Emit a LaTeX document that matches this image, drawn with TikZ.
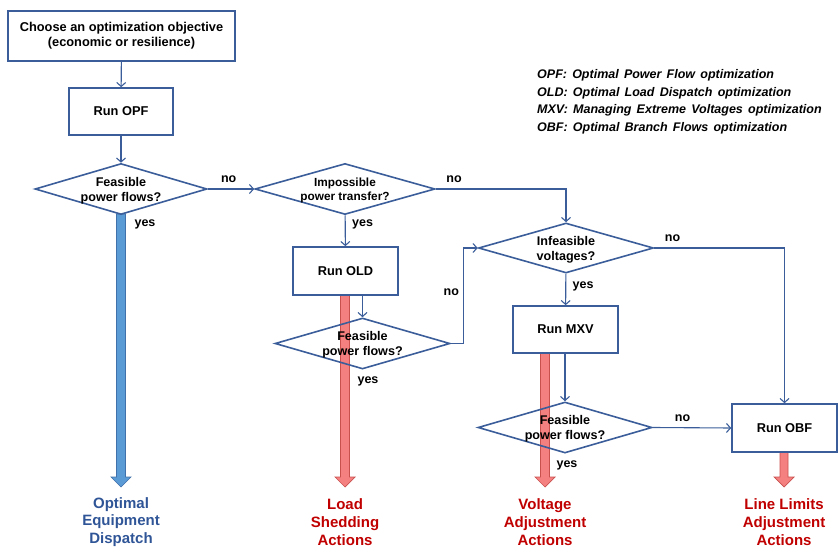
\documentclass[tikz,border=0pt]{standalone}
\usepackage{fontspec}
\setmainfont{Liberation Sans}
\newfontfamily\legendfont{Liberation Sans}[WordSpace=1.5]
\usetikzlibrary{shapes.geometric,arrows.meta}

\definecolor{flowblue}{RGB}{59,94,154}
\definecolor{fatbluefill}{RGB}{91,155,213}
\definecolor{fatblueedge}{RGB}{65,113,170}
\definecolor{fatredfill}{RGB}{244,128,128}
\definecolor{fatrededge}{RGB}{200,80,77}
\definecolor{outred}{RGB}{192,0,0}
\definecolor{outblue}{RGB}{47,85,151}

\tikzset{
  process/.style={draw=flowblue, line width=1.6pt, rectangle, align=center,
    font=\fontsize{12.8}{15}\selectfont\bfseries},
  decision/.style={draw=flowblue, line width=1.6pt, diamond, inner sep=0pt},
  qtext/.style={align=center, yshift=-1.5pt, font=\fontsize{12.6}{14.8}\selectfont\bfseries},
  flow/.style={draw=flowblue, line width=1.1pt, -{Straight Barb[length=4pt,width=9pt]}},
  lbl/.style={font=\fontsize{12.5}{14}\selectfont\bfseries},
  outcome/.style={align=center, font=\fontsize{15}{17.7}\selectfont\bfseries},
  fatblue/.style={fill=fatbluefill, draw=fatblueedge, line width=0.7pt, line join=miter},
  fatred/.style={fill=fatredfill, draw=fatrededge, line width=0.7pt, line join=miter}
}

\begin{document}
\begin{tikzpicture}[x=1pt, y=-1pt]
    \useasboundingbox (0,0) rectangle (838,548);

    % fat result arrows (drawn first, the diamonds sit on top)
    \draw[fatblue] (116.5,214) -- ++(0,263) -- ++(-5.5,0) -- ++(10,10) -- ++(10,-10)
      -- ++(-5.5,0) -- ++(0,-263) -- cycle;
    \draw[fatred] (340.5,295) -- ++(0,182) -- ++(-5.5,0) -- ++(10,10) -- ++(10,-10)
      -- ++(-5.5,0) -- ++(0,-182) -- cycle;
    \draw[fatred] (540.5,353) -- ++(0,124) -- ++(-5.5,0) -- ++(10,10) -- ++(10,-10)
      -- ++(-5.5,0) -- ++(0,-124) -- cycle;
    \draw[fatred] (780,452) -- ++(0,25) -- ++(-6,0) -- ++(10,10) -- ++(10,-10)
      -- ++(-6,0) -- ++(0,-25) -- cycle;

    % boxes
    \node[process, minimum width=227, minimum height=50] (choose) at (121.5,36)
      {Choose an optimization objective\\(economic or resilience)};
    \node[process, minimum width=104, minimum height=47] (opf) at (121,111.5) {Run OPF};
    \node[process, minimum width=105, minimum height=48] (old) at (345.5,271) {Run OLD};
    \node[process, minimum width=105, minimum height=47] (mxv) at (565.5,329.5) {Run MXV};
    \node[process, minimum width=105, minimum height=48] (obf) at (784.5,428) {Run OBF};

    % decisions
    \node[decision, minimum width=172, minimum height=51,
      label={[qtext]center:Feasible\\power flows?}] (feas1) at (121,189) {};
    \node[decision, minimum width=180, minimum height=51,
      label={[qtext, font=\fontsize{11.8}{14}\selectfont\bfseries]center:Impossible\\power transfer?}]
      (impos) at (345,189) {};
    \node[decision, minimum width=175, minimum height=50,
      label={[qtext]center:Infeasible\\voltages?}] (infeas) at (566,248) {};
    \node[decision, minimum width=175, minimum height=51,
      label={[qtext]center:Feasible\\power flows?}] (feas2) at (362.5,343.5) {};
    \node[decision, minimum width=174, minimum height=51,
      label={[qtext]center:Feasible\\power flows?}] (feas3) at (565,427.5) {};

    % connectors
    \draw[flow] (choose) -- (opf);
    \draw[flow] (opf) -- (feas1);
    \draw[flow] (feas1.east) -- node[lbl, pos=0.45, above=2pt]{no} (impos.west);
    \draw[flow] (impos.east) -| node[lbl, pos=0.07, above=2pt]{no} (infeas.north);
    \draw[flow] (impos) -- node[lbl, pos=0.3, right=3pt]{yes} (old);
    \draw[flow] (feas2.north |- old.south) -- (feas2.north);
    \draw[flow] (feas2.east) -- ++(13,0) |- node[lbl, pos=0.27, left=1pt]{no} (infeas.west);
    \draw[flow] (infeas) -- node[lbl, pos=0.4, right=3pt]{yes} (mxv);
    \draw[flow] (infeas.east) -| node[lbl, pos=0.07, above=2pt]{no} (obf.north);
    \draw[flow] (feas3.north |- mxv.south) -- (feas3.north);
    \draw[flow] (feas3.east) -- node[lbl, pos=0.38, above=2pt]{no} (obf.west);

    % yes labels next to the fat arrows
    \node[lbl] (yes1) at (145,224) {yes};
    \node[lbl] (yes2) at (368,381) {yes};
    \node[lbl] (yes3) at (567,465) {yes};

    % legend
    \node[anchor=north west, align=left, inner sep=0pt,
      font=\legendfont\fontsize{12.5}{17.6}\selectfont\bfseries\itshape] (legend) at (537,69.5)
      {OPF: Optimal Power Flow optimization\\
       OLD: Optimal Load Dispatch optimization\\
       MXV: Managing Extreme Voltages optimization\\
       OBF: Optimal Branch Flows optimization};

    % outcomes
    \node[outcome, text=outblue] (dispatch) at (121,522) {Optimal\\Equipment\\Dispatch};
    \node[outcome, text=outred] (shed) at (345,522) {Load\\Shedding\\Actions};
    \node[outcome, text=outred] (volt) at (545,522) {Voltage\\Adjustment\\Actions};
    \node[outcome, text=outred] (limits) at (784,522) {Line Limits\\Adjustment\\Actions};
\end{tikzpicture}
\end{document}
